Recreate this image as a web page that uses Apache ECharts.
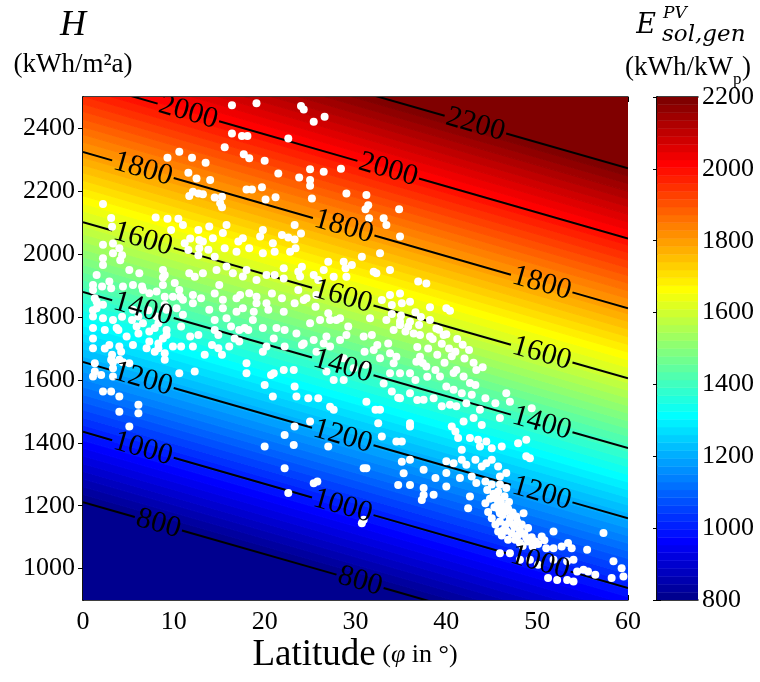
<!DOCTYPE html>
<html>
<head>
<meta charset="utf-8">
<script src="https://cdn.jsdelivr.net/npm/echarts@6/dist/echarts.min.js"></script>
<style>
  html, body { margin: 0; padding: 0; background: #ffffff; }
  #chart { width: 760px; height: 682px; }
</style>
</head>
<body>
<div id="chart"></div>
<script>
// Iso-lines of specific PV yield (kWh/kWp) over latitude and irradiation H
const contourLevels = [800, 1000, 1200, 1400, 1600, 1800, 2000, 2200];
const contourHAtLat0 = [1211, 1435, 1657, 1880, 2102, 2325, 2547, 2770];
const contourHAtLat60 = [716, 938, 1160, 1383, 1605, 1828, 2050, 2273];
// latitude at which each iso-line carries its inline label
const contourLabelLats = [
  [8.3, 30.5],
  [6.6, 28.6, 50.3],
  [6.6, 28.6, 50.5],
  [6.6, 28.6, 50.5],
  [6.6, 28.6, 50.5],
  [6.6, 28.7, 50.5],
  [11.6, 33.6],
  [43.2]
];

const latTicks = [0, 10, 20, 30, 40, 50, 60];
const hTicks = [1000, 1200, 1400, 1600, 1800, 2000, 2200, 2400];
const colorbarTicks = [800, 1000, 1200, 1400, 1600, 1800, 2000, 2200];

// sites: [latitude (deg), H (kWh/m2a)]
const sitePoints = [
  [16.4,2474],[19.1,2480],[24.0,2471],[24.3,2460],[26.6,2437],[25.4,2421],[16.4,2384],[17.5,2376],[18.1,2376],[22.6,2368],
  [15.6,2340],[10.6,2326],[9.3,2307],[12.0,2307],[17.7,2318],[18.3,2305],[20.0,2297],[13.5,2291],[25.0,2270],[26.5,2262],
  [28.4,2272],[21.5,2257],[23.8,2244],[11.6,2259],[12.5,2241],[14.0,2236],[25.0,2236],[25.0,2218],[18.0,2206],[18.6,2206],
  [19.7,2213],[29.0,2193],[25.2,2177],[12.1,2199],[12.7,2193],[13.2,2191],[11.7,2185],[14.5,2180],[15.3,2183],[15.1,2162],
  [15.3,2149],[20.1,2174],[21.2,2181],[2.2,2160],[8.0,2117],[9.3,2113],[10.5,2113],
  [23.3,2093],[22.6,2053],[23.3,2047],[24.0,2066],[27.0,1976],[28.7,1976],[29.6,1966],[22.1,1923],[23.7,1944],[25.4,1934],
  [26.5,1950],[27.6,1928],[29.0,1928],[23.7,1886],[23.3,1844],[24.3,1854],[22.1,1817],[26.1,1791],[27.0,1812],[27.9,1791],
  [22.2,1759],[23.5,1748],[24.3,1716],[25.4,1727],[26.5,1716],[22.2,1706],[24.1,1711],[29.0,1743],
  [23.4,2019],[22.8,2008],[22.1,1955],[24.1,1960],[23.9,1929],[25.9,1918],[28.9,1955],[24.6,1860],[25.7,1870],[25.6,1833],
  [25.0,1780],[27.2,1791],[28.3,1796],[29.2,1770],[26.8,1738],[28.3,1727],[27.2,1706],
  [11.0,2093],[12.7,2077],[13.9,2088],[15.8,2093],[19.8,2077],[12.8,2045],[14.3,2051],[15.4,2067],[17.1,2040],[17.6,2051],
  [2.2,2030],[3.3,2003],[4.0,2019],[2.2,1987],[11.2,2035],[12.8,2019],[13.8,2014],[15.6,2019],[16.9,2008],[18.3,2019],
  [19.8,2003],[21.1,2008],[20.9,2035],[14.5,1992],[2.2,1966],[5.1,1950],[6.2,1939],[8.8,1950],[9.0,1934],[11.7,1939],
  [13.2,1939],[14.7,1950],[15.8,1961],[17.6,1929],[19.1,1918],[21.1,1934],[1.5,1934],[1.1,1902],[1.1,1886],[2.9,1913],
  [3.1,1892],[4.4,1897],[5.5,1902],[6.6,1886],[7.3,1876],[8.8,1902],[10.1,1908],[10.6,1886],[9.9,1865],[11.0,1855],
  [12.1,1870],[12.1,1844],[13.0,1860],[15.0,1902],[15.4,1855],[16.9,1860],[18.3,1876],[19.1,1865],[20.2,1844],[1.5,1849],
  [1.5,1828],[2.2,1839],[1.1,1802],[2.2,1796],[3.3,1791],[5.5,1823],[6.1,1802],[8.1,1802],[9.2,1823],[10.8,1770],
  [13.9,1823],[14.5,1791],[15.8,1796],[17.6,1828],[18.7,1791],[20.4,1823],[19.1,1844],[1.1,1765],[2.4,1759],[3.7,1765],
  [5.9,1770],[6.6,1780],[7.3,1754],[7.9,1765],[9.2,1743],[12.7,1743],[14.5,1759],[16.3,1770],[17.2,1759],[17.8,1765],
  [19.8,1765],[21.3,1765],[1.1,1701],[2.9,1711],[4.0,1706],[7.0,1701],[7.3,1722],[8.3,1701],[7.9,1690],[9.0,1685],
  [10.8,1706],[13.4,1680],[14.9,1701],[16.1,1706],[17.2,1722],[19.8,1690],[3.1,1664],[4.0,1664],[4.2,1690],[1.3,1627],
  [1.1,1611],[2.0,1616],[5.1,1653],[9.0,1664],[10.6,1621],[12.3,1627],[18.0,1653],[18.0,1621],[20.7,1616],[2.2,1563],
  [3.1,1563],[4.0,1547],[4.0,1499],[6.1,1521],[6.1,1494],[20.0,1584],[20.9,1547],
  [3.1,2115],[3.2,2087],[9.7,2077],[11.8,2050],[13.2,2040],[19.5,2056],[21.9,2061],[3.3,2034],[4.3,1997],[4.1,1981],
  [12.7,1997],[11.6,2013],[8.8,1926],[12.3,1928],[16.5,1939],[18.0,1950],[20.2,1934],[2.1,1897],[6.5,1897],[8.1,1881],
  [9.0,1865],[10.7,1865],[14.5,1875],[17.3,1870],[20.8,1875],[21.9,1860],[1.3,1860],[1.1,1822],[4.3,1801],[5.4,1791],
  [7.2,1822],[9.0,1838],[10.3,1828],[11.0,1807],[15.4,1828],[16.9,1817],[18.8,1817],[1.1,1732],[3.9,1759],[4.8,1738],
  [6.1,1748],[8.3,1780],[9.2,1759],[11.8,1738],[14.9,1743],[16.7,1732],[18.2,1759],[21.0,1732],[2.4,1700],[5.5,1711],
  [8.3,1716],[8.8,1732],[9.9,1706],[12.1,1706],[14.2,1711],[20.2,1706],
  [3.2,1680],[3.3,1656],[4.4,1656],[1.3,1653],[3.3,1637],[3.3,1611],[15.3,1680],[21.0,1621],
  [31.2,2188],[31.4,2156],[31.1,2143],[34.8,2143],[31.5,2114],[33.1,2114],[33.4,2093],[34.9,2056],[30.7,1992],[32.7,2003],
  [32.0,1944],[32.3,1939],[33.8,1950],[36.9,1913],[37.8,1907],[34.9,1875],[36.0,1849],[32.9,1854],[34.0,1838],[35.1,1844],
  [36.0,1785],[38.2,1831],[40.0,1828],[40.4,1820],[33.4,1791],[34.9,1775],[30.9,1738],[31.8,1743],[33.6,1716],[36.4,1748],
  [37.1,1743],[38.2,1738],[38.9,1764],[39.7,1743],
  [33.8,1870],[31.6,1796],[38.2,1791],[34.2,1759],[35.5,1754],[32.4,1711],[34.9,1786],
  [34.0,1810],[35.0,1805],[36.6,1815],[37.2,1800],[35.8,1770],[37.0,1775],
  [25.7,1690],[26.8,1627],[28.7,1669],[29.8,1637],[28.7,1600],[27.6,1600],[27.2,1515],[27.6,1505],[25.9,1542],[24.8,1542],
  [25.0,1468],[23.5,1547],[22.1,1632],[23.2,1632],[23.3,1579],[23.3,1452],[22.2,1425],[23.2,1393],[20.0,1388],[22.2,1319],
  [25.4,1271],[25.8,1277],[22.6,1240],[27.0,1388],[5.1,1452],
  [32.0,1695],[31.0,1690],[33.8,1685],[34.5,1674],[32.7,1669],[31.1,1648],[34.2,1653],[33.8,1621],[34.9,1621],[36.0,1621],
  [36.7,1658],[37.1,1674],[33.1,1589],[34.0,1563],[34.9,1542],[36.0,1558],[31.2,1531],[32.2,1505],[32.7,1505],[32.5,1462],
  [36.0,1462],[32.9,1420],[34.5,1404],[35.1,1404],[36.0,1452],[35.1,1340],[36.0,1346],[35.3,1303],[34.7,1266],[36.0,1266],
  [30.9,1319],[31.2,1319],[37.3,1218],[37.5,1234],[30.7,1144],[30.9,1155],
  [36.8,1705],[37.4,1654],[36.6,1600],[37.9,1610],[34.7,1543],[36.8,1536],
  [38.5,1730],[39.5,1715],[40.3,1700],[38.0,1700],[41.0,1690],[39.0,1680],
  [39.2,1760],[40.0,1745],[41.2,1730],[41.8,1712],[42.5,1695],[40.6,1675],[42.0,1668],[43.0,1655],[44.0,1640],[39.8,1655],
  [37.8,1643],[38.8,1632],[39.3,1611],[40.8,1622],[41.1,1632],[41.9,1611],[43.3,1632],[43.2,1584],[42.6,1590],[40.0,1579],
  [40.8,1569],[41.7,1558],[42.8,1553],[44.3,1542],[45.4,1526],[46.6,1558],[47.0,1531],[37.5,1537],[38.6,1542],[39.5,1516],
  [40.4,1521],[41.1,1516],[42.2,1526],[43.7,1505],[45.9,1479],[49.4,1510],[41.9,1468],[43.0,1479],[43.9,1457],[41.0,1436],
  [40.6,1452],[41.3,1415],[42.6,1415],[43.5,1410],[44.4,1404],[45.0,1383],[46.1,1388],[43.7,1388],[41.7,1378],[47.9,1399],
  [48.8,1410],[48.8,1357],[49.2,1351],[40.0,1341],[40.8,1335],[41.7,1346],[42.2,1330],[43.2,1346],[43.9,1325],[44.4,1335],
  [45.0,1346],[45.7,1325],[46.6,1304],[45.9,1293],[37.5,1314],[38.8,1288],[40.0,1304],[41.5,1288],[42.8,1293],[43.3,1272],
  [44.3,1277],[45.0,1267],[45.9,1267],[45.7,1245],[46.6,1256],[37.5,1256],[38.6,1235],[40.0,1261],[42.6,1229],[44.3,1208],
  [42.4,1192],[45.4,1224],[45.7,1208],[46.3,1198],[45.9,1176],[46.6,1182],[47.0,1161],[47.7,1166],[48.5,1176],[47.4,1139],
  [46.3,1123],[48.1,1123],[49.0,1129],[45.9,1150],[46.5,1139],[45.7,1118],[46.8,1092],[47.6,1092],[48.1,1081],[49.0,1086],
  [49.8,1086],[50.5,1102],[51.8,1118],[57.3,1113],[45.9,1049],[47.0,1049],[51.0,1065],[51.8,1065],[52.7,1070],[53.4,1081],
  [53.8,1065],[48.1,1028],[49.2,1028],[50.1,1012],[51.8,1028],[53.3,1023],[54.0,1028],[54.4,991],[55.1,996],[55.6,991],
  [56.4,980],[58.4,1023],[59.3,1001],[58.2,970],[59.5,975],[51.2,970],[52.2,964],[53.3,964],[54.0,959],[55.5,1060],
  [45.2,1238],[45.6,1226],[46.0,1214],[46.4,1230],[46.9,1212],[45.3,1195],[45.8,1186],[46.2,1170],[46.8,1190],[47.3,1178],
  [47.8,1150],[46.9,1146],[47.5,1132],[48.3,1140],[48.6,1110],[47.9,1105],[47.2,1112],[48.8,1098],[49.4,1100],[48.4,1072],
  [49.5,1070],[50.1,1078],[50.8,1090],[45.0,1160],[44.6,1180],[45.4,1140],[46.1,1105],[46.6,1120],[44.8,1222],[44.5,1250]
];

// MATLAB-style jet colormap with m entries
function jetColormap(m) {
  const n = Math.ceil(m / 4);
  const u = [];
  for (let i = 1; i <= n; i++) u.push(i / n);
  for (let i = 1; i < n; i++) u.push(1);
  for (let i = n; i >= 1; i--) u.push(i / n);
  const g0 = Math.ceil(n / 2) - (m % 4 === 1 ? 1 : 0);
  const rgb = Array.from({ length: m }, () => [0, 0, 0]);
  for (let k = 0; k < u.length; k++) {
    const gi = g0 + k + 1, ri = gi + n, bi = gi - n;
    if (gi >= 1 && gi <= m) rgb[gi - 1][1] = u[k];
    if (ri >= 1 && ri <= m) rgb[ri - 1][0] = u[k];
    if (bi >= 1 && bi <= m) rgb[bi - 1][2] = u[k];
  }
  return rgb.map(c => 'rgb(' + c.map(v => Math.round(v * 255)).join(',') + ')');
}

const colorMin = 800, colorMax = 2200, nColors = 64;
const jetColors = jetColormap(nColors);
const colorStep = (colorMax - colorMin) / nColors;
const colorIndices = jetColors.map((c, i) => [i]);

// H on the iso-line of yield e, piecewise linear between the drawn contour levels
function levelInterp(arr, e) {
  const n = contourLevels.length;
  let i = 0;
  if (e >= contourLevels[n - 1]) i = n - 2;
  else if (e > contourLevels[0]) { while (contourLevels[i + 1] < e) i++; }
  const t = (e - contourLevels[i]) / (contourLevels[i + 1] - contourLevels[i]);
  return arr[i] + t * (arr[i + 1] - arr[i]);
}
function isoH(e, lat) {
  const a = levelInterp(contourHAtLat0, e), b = levelInterp(contourHAtLat60, e);
  return a + (b - a) * lat / 60;
}

const serif = '"Liberation Serif", "Times New Roman", serif';
const plainNumber = v => String(v);
const tickFont = { color: '#000', fontFamily: serif, fontSize: 26, formatter: plainNumber };
const labelFontSize = 30;

const contourLabelItems = [];
contourLabelLats.forEach((lats, i) => lats.forEach(lat => contourLabelItems.push([i, lat])));

const chart = echarts.init(document.getElementById('chart'), null, { renderer: 'canvas' });

const frameAxis = {
  axisLine: { show: true, lineStyle: { color: '#000', width: 1.5 } },
  axisTick: { show: true, inside: true, length: 5, lineStyle: { color: '#000', width: 1 } },
  splitLine: { show: false }
};

chart.setOption({
  animation: false,
  backgroundColor: '#ffffff',
  grid: [
    { left: 83, top: 97, width: 545, height: 503 },
    { left: 657, top: 97, width: 41, height: 503 }
  ],
  xAxis: [
    Object.assign({ gridIndex: 0, type: 'value', min: latTicks[0], max: latTicks[latTicks.length - 1], interval: 10, position: 'bottom',
      axisLabel: Object.assign({ margin: 9 }, tickFont) }, frameAxis),
    Object.assign({ gridIndex: 0, type: 'value', min: latTicks[0], max: latTicks[latTicks.length - 1], interval: 10, position: 'top',
      axisLabel: { show: false } }, frameAxis),
    { gridIndex: 1, type: 'value', min: 0, max: 1, position: 'bottom', axisLine: { lineStyle: { color: '#000', width: 1.5 } },
      axisTick: { show: false }, axisLabel: { show: false }, splitLine: { show: false } },
    { gridIndex: 1, type: 'value', min: 0, max: 1, position: 'top', axisLine: { lineStyle: { color: '#000', width: 1.5 } },
      axisTick: { show: false }, axisLabel: { show: false }, splitLine: { show: false } }
  ],
  yAxis: [
    Object.assign({ gridIndex: 0, type: 'value', min: 900, max: 2500, position: 'left',
      axisLabel: Object.assign({ margin: 8, customValues: hTicks }, tickFont) }, frameAxis,
      { axisTick: { show: true, inside: true, length: 5, customValues: hTicks, lineStyle: { color: '#000', width: 1 } } }),
    Object.assign({ gridIndex: 0, type: 'value', min: 900, max: 2500, position: 'right',
      axisLabel: { show: false } }, frameAxis,
      { axisTick: { show: true, inside: true, length: 5, customValues: hTicks, lineStyle: { color: '#000', width: 1 } } }),
    { gridIndex: 1, type: 'value', min: colorbarTicks[0], max: colorbarTicks[colorbarTicks.length - 1], interval: 200, position: 'right',
      axisLine: { show: true, lineStyle: { color: '#000', width: 1.5 } },
      axisTick: { show: true, inside: true, length: 4, lineStyle: { color: '#000' } },
      axisLabel: Object.assign({ margin: 4 }, tickFont), splitLine: { show: false } },
    { gridIndex: 1, type: 'value', min: colorbarTicks[0], max: colorbarTicks[colorbarTicks.length - 1], interval: 200, position: 'left',
      axisLine: { show: true, lineStyle: { color: '#000', width: 1.5 } },
      axisTick: { show: true, inside: true, length: 4, lineStyle: { color: '#000' } },
      axisLabel: { show: false }, splitLine: { show: false } }
  ],
  series: [
    {
      // colour bands of the yield field
      type: 'custom', xAxisIndex: 0, yAxisIndex: 0, clip: true, silent: true, z: 1,
      data: colorIndices,
      renderItem: function (params, api) {
        const k = api.value(0);
        const eLo = k === 0 ? colorMin - 3000 : colorMin + k * colorStep;
        const eHi = k === nColors - 1 ? colorMax + 3000 : colorMin + (k + 1) * colorStep;
        const pts = [
          api.coord([0, isoH(eLo, 0)]), api.coord([60, isoH(eLo, 60)]),
          api.coord([60, isoH(eHi, 60)]), api.coord([0, isoH(eHi, 0)])
        ];
        return { type: 'polygon', shape: { points: pts },
          style: { fill: jetColors[k], stroke: jetColors[k], lineWidth: 1 } };
      }
    },
    {
      // iso-lines, broken where their labels sit
      type: 'custom', xAxisIndex: 0, yAxisIndex: 0, clip: true, silent: true, z: 2,
      data: contourLevels.map((v, i) => [i]),
      renderItem: function (params, api) {
        const i = api.value(0);
        const p0 = api.coord([0, contourHAtLat0[i]]);
        const p1 = api.coord([60, contourHAtLat60[i]]);
        const dx = p1[0] - p0[0], dy = p1[1] - p0[1];
        const len = Math.hypot(dx, dy);
        const halfGap = String(contourLevels[i]).length * 0.5 * labelFontSize / 2 + 2;
        const cuts = contourLabelLats[i].map(lat => lat / 60 * len).sort((a, b) => a - b);
        const pieces = [];
        let s = 0;
        cuts.forEach(c => { pieces.push([s, c - halfGap]); s = c + halfGap; });
        pieces.push([s, len]);
        const children = pieces.filter(p => p[1] > p[0]).map(p => ({
          type: 'line',
          shape: { x1: p0[0] + dx * p[0] / len, y1: p0[1] + dy * p[0] / len,
                   x2: p0[0] + dx * p[1] / len, y2: p0[1] + dy * p[1] / len },
          style: { stroke: '#000', lineWidth: 2 }
        }));
        return { type: 'group', children: children };
      }
    },
    {
      type: 'scatter', xAxisIndex: 0, yAxisIndex: 0, z: 3, silent: true,
      symbol: 'circle', symbolSize: 8,
      itemStyle: { color: '#ffffff', opacity: 1 },
      data: sitePoints
    },
    {
      // inline iso-line labels
      type: 'custom', xAxisIndex: 0, yAxisIndex: 0, clip: true, silent: true, z: 4,
      data: contourLabelItems,
      renderItem: function (params, api) {
        const i = api.value(0), lat = api.value(1);
        const p0 = api.coord([0, contourHAtLat0[i]]);
        const p1 = api.coord([60, contourHAtLat60[i]]);
        const h = contourHAtLat0[i] + (contourHAtLat60[i] - contourHAtLat0[i]) * lat / 60;
        const p = api.coord([lat, h]);
        const ang = Math.atan2(p1[1] - p0[1], p1[0] - p0[0]);
        return {
          type: 'text', x: p[0], y: p[1], rotation: -ang,
          style: { text: String(contourLevels[i]), fill: '#000',
            font: labelFontSize + 'px ' + serif, align: 'center', verticalAlign: 'middle' }
        };
      }
    },
    {
      // colour bar
      type: 'custom', xAxisIndex: 2, yAxisIndex: 2, clip: true, silent: true, z: 1,
      data: colorIndices,
      renderItem: function (params, api) {
        const k = api.value(0);
        const a = api.coord([0, colorMin + k * colorStep]);
        const b = api.coord([1, colorMin + (k + 1) * colorStep]);
        return { type: 'rect', shape: { x: a[0], y: b[1], width: b[0] - a[0], height: a[1] - b[1] },
          style: { fill: jetColors[k], stroke: jetColors[k], lineWidth: 0.5 } };
      }
    }
  ],
  graphic: [
    { type: 'text', x: 73, y: 26, style: { text: 'H', fill: '#000', font: 'italic 36px ' + serif, align: 'center', verticalAlign: 'middle' } },
    { type: 'text', x: 73, y: 65, style: { text: '(kWh/m²a)', fill: '#000', font: '27px ' + serif, align: 'center', verticalAlign: 'middle' } },
    { type: 'text', x: 646, y: 26, style: { text: 'E', fill: '#000', font: 'italic 27px "DejaVu Serif", serif', align: 'center', verticalAlign: 'middle' } },
    { type: 'text', x: 663, y: 14, style: { text: 'PV', fill: '#000', font: 'italic 17px "DejaVu Serif", serif', align: 'left', verticalAlign: 'middle' } },
    { type: 'text', x: 662, y: 35, style: { text: 'sol,gen', fill: '#000', font: 'italic 23px "DejaVu Serif", serif', align: 'left', verticalAlign: 'middle' } },
    { type: 'text', x: 625, y: 68, style: { text: '(kWh/kW', fill: '#000', font: '27px ' + serif, align: 'left', verticalAlign: 'middle' } },
    { type: 'text', x: 733, y: 80, style: { text: 'p', fill: '#000', font: '17px ' + serif, align: 'left', verticalAlign: 'middle' } },
    { type: 'text', x: 742, y: 68, style: { text: ')', fill: '#000', font: '27px ' + serif, align: 'left', verticalAlign: 'middle' } },
    { type: 'text', x: 355, y: 655, style: {
        text: '{a|Latitude}{b| (}{c|φ}{b| in °)}', fill: '#000', align: 'center', verticalAlign: 'middle',
        rich: {
          a: { fontFamily: serif, fontSize: 37, fill: '#000' },
          b: { fontFamily: serif, fontSize: 26, fill: '#000' },
          c: { fontFamily: serif, fontSize: 26, fontStyle: 'italic', fill: '#000' }
        }
      } }
  ]
});
</script>
</body>
</html>
